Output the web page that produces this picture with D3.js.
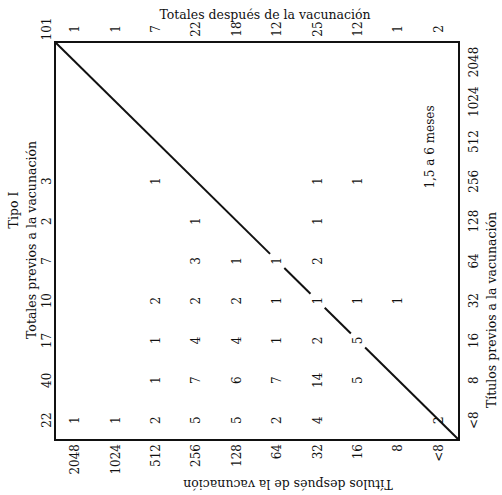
<!DOCTYPE html>
<html>
<head>
<meta charset="utf-8">
<script src="https://cdn.jsdelivr.net/npm/d3@7"></script>
<style>
  body { margin: 0; background: #fff; }
  text { font-family: "DejaVu Serif", "Liberation Serif", serif; fill: #111; }
</style>
</head>
<body>
<div id="chart"></div>
<script>
// categorias de titulos (columnas: despues, filas: previos)
const titulosDespues = ["2048", "1024", "512", "256", "128", "64", "32", "16", "8", "<8"];
const titulosPrevios = ["2048", "1024", "512", "256", "128", "64", "32", "16", "8", "<8"];

const totalesDespues = [1, 1, 7, 22, 18, 12, 25, 12, 1, 2];
const totalesPrevios = [null, null, null, 3, 2, 7, 10, 17, 40, 22];
const totalGeneral = 101;

// una fila por titulo previo, una columna por titulo despues
const conteos = [
  [null, null, null, null, null, null, null, null, null, null],
  [null, null, null, null, null, null, null, null, null, null],
  [null, null, null, null, null, null, null, null, null, null],
  [null, null, 1, null, null, null, 1, 1, null, null],
  [null, null, null, 1, null, null, 1, null, null, null],
  [null, null, null, 3, 1, 1, 2, null, null, null],
  [null, null, 2, 2, 2, 1, 1, 1, 1, null],
  [null, null, 1, 4, 4, 1, 2, 5, null, null],
  [null, null, 1, 7, 6, 7, 14, 5, null, null],
  [1, 1, 2, 5, 5, 2, 4, null, null, 2]
];

const W = 502, H = 495;
const box = { left: 55, right: 459, top: 42, bottom: 440 };

const svg = d3.select("#chart")
  .append("svg")
  .attr("width", W)
  .attr("height", H);

const x = d3.scaleBand()
  .domain(titulosDespues)
  .range([box.left, box.right]);

const y = d3.scaleBand()
  .domain(titulosPrevios)
  .range([box.top, box.bottom]);

const cx = d => x(d) + x.bandwidth() / 2;
const cy = d => y(d) + y.bandwidth() / 2;

// rotated text helper (reads bottom to top)
function vText(g, px, py, str, size, anchor) {
  return g.append("text")
    .attr("transform", `translate(${px},${py}) rotate(-90)`)
    .attr("text-anchor", anchor || "middle")
    .attr("dominant-baseline", "central")
    .style("font-size", size + "px")
    .text(str);
}

// marco
svg.append("rect")
  .attr("x", box.left)
  .attr("y", box.top)
  .attr("width", box.right - box.left)
  .attr("height", box.bottom - box.top)
  .attr("fill", "none")
  .attr("stroke", "#111")
  .attr("stroke-width", 2);

// diagonal, cortada donde cae un numero
const x0 = x.range()[0], x1 = x.range()[1];
const y0 = y.range()[0], y1 = y.range()[1];
const len = Math.hypot(x1 - x0, y1 - y0);
const cortes = [];
titulosPrevios.forEach((p, i) => {
  const j = titulosDespues.indexOf(p);
  if (conteos[i][j] != null && i < titulosPrevios.length - 1) {
    const t = ((cx(p) - x0) * (x1 - x0) + (cy(p) - y0) * (y1 - y0)) / (len * len);
    cortes.push(t);
  }
});
const gap = 10 / len;
let tStart = 0;
const segs = [];
cortes.forEach(t => { segs.push([tStart, t - gap]); tStart = t + gap; });
segs.push([tStart, 1]);

svg.selectAll("line.diag")
  .data(segs)
  .enter().append("line")
  .attr("class", "diag")
  .attr("x1", d => x0 + (x1 - x0) * d[0])
  .attr("y1", d => y0 + (y1 - y0) * d[0])
  .attr("x2", d => x0 + (x1 - x0) * d[1])
  .attr("y2", d => y0 + (y1 - y0) * d[1])
  .attr("stroke", "#111")
  .attr("stroke-width", 2);

// numeros de la tabla
const celdas = [];
conteos.forEach((fila, i) => fila.forEach((v, j) => {
  if (v != null) celdas.push({ p: titulosPrevios[i], d: titulosDespues[j], v });
}));
const gCells = svg.append("g");
celdas.forEach(c => vText(gCells, cx(c.d), cy(c.p), c.v, 12));

// totales despues (arriba)
const gTop = svg.append("g");
vText(gTop, box.left - 8, 29, totalGeneral, 12);
titulosDespues.forEach((d, j) => vText(gTop, cx(d), 29, totalesDespues[j], 12));

// totales previos (izquierda)
const gLeft = svg.append("g");
titulosPrevios.forEach((p, i) => {
  if (totalesPrevios[i] != null) vText(gLeft, 47, cy(p), totalesPrevios[i], 12);
});

// ejes de titulos
const gBottom = svg.append("g");
titulosDespues.forEach(d => vText(gBottom, cx(d), box.bottom + 4, d, 12, "end"));
const gRight = svg.append("g");
titulosPrevios.forEach(p => vText(gRight, 474, cy(p), p, 12));

// rotulos
svg.append("text")
  .attr("x", 265).attr("y", 14)
  .attr("text-anchor", "middle")
  .attr("dominant-baseline", "central")
  .style("font-size", "12.5px")
  .text("Totales después de la vacunación");

svg.append("text")
  .attr("transform", "translate(288,484) rotate(180)")
  .attr("text-anchor", "middle")
  .attr("dominant-baseline", "central")
  .style("font-size", "12.5px")
  .text("Títulos después de la vacunación");

vText(svg, 491, 310, "Títulos previos a la vacunación", 12.5);
vText(svg, 13, 210, "Tipo I", 12.5);
vText(svg, 31, 240, "Totales previos a la vacunación", 12.5);
vText(svg, 430, 147, "1,5 a 6 meses", 12);
</script>
</body>
</html>
